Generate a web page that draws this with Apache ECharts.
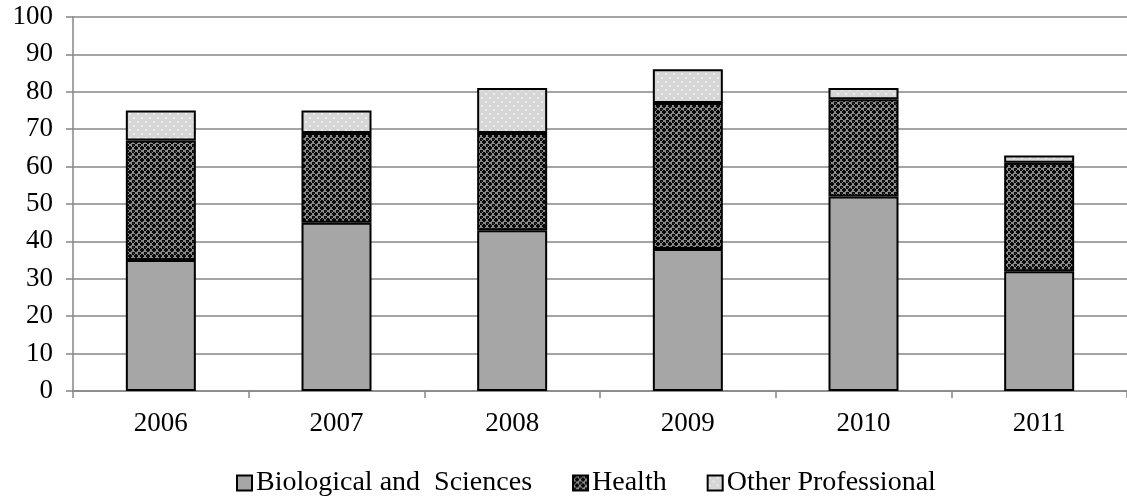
<!DOCTYPE html>
<html>
<head>
<meta charset="utf-8">
<script src="https://cdn.jsdelivr.net/npm/echarts@6/dist/echarts.min.js"></script>
<style>
  html, body { margin: 0; padding: 0; background: #fff; }
  #chart { width: 1127px; height: 498px; }
</style>
</head>
<body>
<div id="chart"></div>
<script>
// 数据
var years = ['2006', '2007', '2008', '2009', '2010', '2011'];
var biological = [35, 45, 43, 38, 52, 32];
var health = [32, 24, 26, 39, 26, 29];
var otherProf = [8, 6, 12, 9, 3, 2];

// 深色网点花纹（Health）
function makeHealthPattern() {
  var c = document.createElement('canvas');
  c.width = 6; c.height = 6;
  var ctx = c.getContext('2d');
  ctx.fillStyle = '#8a8a8a';
  ctx.fillRect(0, 0, 6, 6);
  ctx.fillStyle = '#0a0a0a';
  // 四角星
  ctx.fillRect(0, 0, 2, 2);
  ctx.fillRect(3, 3, 2, 2);
  ctx.fillRect(2, 3, 1, 2);
  ctx.fillRect(5, 3, 1, 2);
  ctx.fillRect(3, 2, 2, 1);
  ctx.fillRect(3, 5, 2, 1);
  ctx.fillRect(0, 2, 2, 1);
  ctx.fillRect(2, 0, 1, 2);
  ctx.fillStyle = '#333';
  ctx.fillRect(1, 1, 1, 1);
  return c;
}
// 浅色点状花纹（Other Professional）
function makeOtherPattern() {
  var c = document.createElement('canvas');
  c.width = 8; c.height = 8;
  var ctx = c.getContext('2d');
  ctx.fillStyle = '#d6d6d6';
  ctx.fillRect(0, 0, 8, 8);
  ctx.fillStyle = '#ececec';
  ctx.fillRect(1, 1, 2, 2);
  ctx.fillRect(5, 5, 2, 2);
  return c;
}

var fontFamily = '"Liberation Serif", "Times New Roman", serif';
var chart = echarts.init(document.getElementById('chart'));

var option = {
  animation: false,
  textStyle: { fontFamily: fontFamily },
  grid: { left: 73, right: 0, top: 17, bottom: 107 },
  legend: {
    top: 464,
    left: 231,
    itemWidth: 15,
    itemHeight: 15,
    itemGap: 40,
    icon: 'rect',
    textStyle: { fontSize: 28, color: '#000', fontFamily: fontFamily, padding: [0, 0, 0, -1] },
    data: ['Biological and  Sciences', 'Health', 'Other Professional']
  },
  xAxis: {
    type: 'category',
    data: years,
    axisLine: { lineStyle: { color: '#868686', width: 1.5 } },
    axisTick: { show: true, length: 7, lineStyle: { color: '#868686', width: 1.5 } },
    axisLabel: { color: '#000', fontSize: 27, margin: 19, fontFamily: fontFamily }
  },
  yAxis: {
    type: 'value',
    min: 0,
    max: 100,
    interval: 10,
    axisLine: { show: true, lineStyle: { color: '#868686', width: 1.5 } },
    axisTick: { show: true, length: 7, lineStyle: { color: '#868686', width: 1.5 } },
    axisLabel: { color: '#000', fontSize: 27, margin: 20, fontFamily: fontFamily },
    splitLine: { lineStyle: { color: '#868686', width: 1.5 } }
  },
  series: [
    {
      name: 'Biological and  Sciences',
      type: 'bar',
      stack: 'total',
      barWidth: 70,
      data: biological,
      itemStyle: { color: '#a6a6a6', borderColor: '#000', borderWidth: 2 }
    },
    {
      name: 'Health',
      type: 'bar',
      stack: 'total',
      barWidth: 70,
      data: health,
      itemStyle: {
        color: { image: makeHealthPattern(), repeat: 'repeat' },
        borderColor: '#000', borderWidth: 2
      }
    },
    {
      name: 'Other Professional',
      type: 'bar',
      stack: 'total',
      barWidth: 70,
      data: otherProf,
      itemStyle: {
        color: { image: makeOtherPattern(), repeat: 'repeat' },
        borderColor: '#000', borderWidth: 2
      }
    }
  ]
};

chart.setOption(option);
</script>
</body>
</html>
